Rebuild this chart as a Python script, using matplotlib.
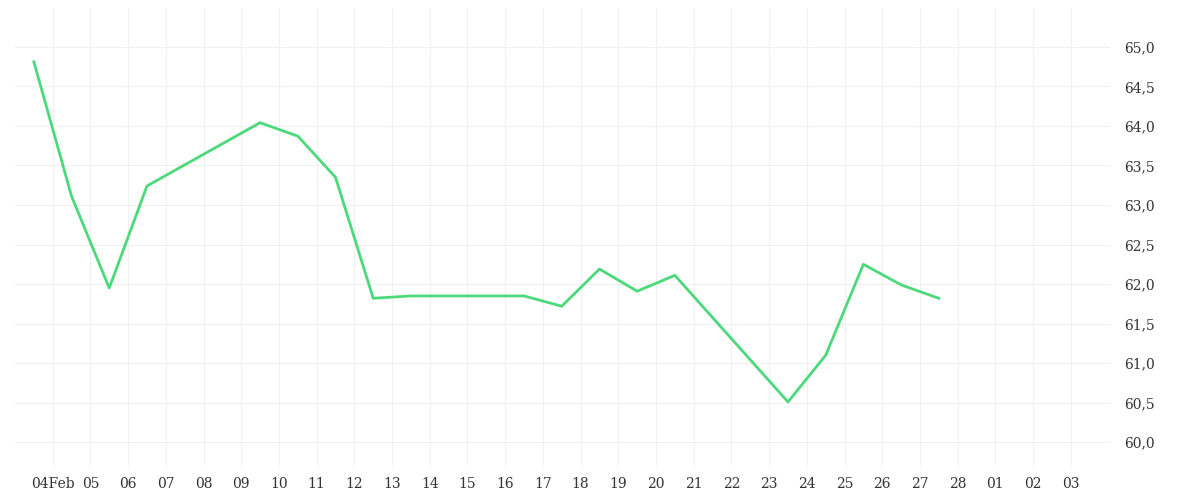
import matplotlib
matplotlib.use("Agg")
import matplotlib.pyplot as plt
import numpy as np

# day offsets relative to 04 Feb
x_days = [-0.5, 0.5, 1.5, 2.5, 5.5, 6.5, 7.5, 8.5, 9.5, 12.5, 13.5, 14.5, 15.5, 16.5, 19.5, 20.5, 21.5, 22.5, 23.5]
values = [64.81, 63.11, 61.95, 63.24, 64.04, 63.87, 63.35, 61.82, 61.85, 61.85, 61.72, 62.19, 61.91, 62.11, 60.51, 61.10, 62.25, 61.99, 61.82]
tick_labels = ["04Feb", "05", "06", "07", "08", "09", "10", "11", "12", "13", "14", "15", "16",
               "17", "18", "19", "20", "21", "22", "23", "24", "25", "26", "27", "28", "01", "02", "03"]
y_ticks = [60.0, 60.5, 61.0, 61.5, 62.0, 62.5, 63.0, 63.5, 64.0, 64.5, 65.0]

fig = plt.figure(figsize=(12, 5), dpi=100)
ax = fig.add_axes([15/1200, 34/500, 1095/1200, 458/500])
ax.plot(x_days, values, color="#4cd97b", lw=2)
ax.set_xlim(-1, 28.04)
ax.set_ylim(59.70, 65.49)
ax.set_xticks(range(len(tick_labels)))
ax.set_xticklabels(tick_labels)
ax.set_yticks(y_ticks)
ax.set_yticklabels([f"{v:.1f}".replace(".", ",") for v in y_ticks])
ax.yaxis.tick_right()
ax.tick_params(axis="both", length=0, labelsize=10, colors="#333333", pad=8)
ax.tick_params(axis="y", pad=10)
for s in ax.spines.values():
    s.set_visible(False)
ax.grid(True, color="#f0f0f0", lw=0.8)
for lab in ax.get_xticklabels() + ax.get_yticklabels():
    lab.set_family("DejaVu Serif")
fig.savefig("out.png", dpi=100)
